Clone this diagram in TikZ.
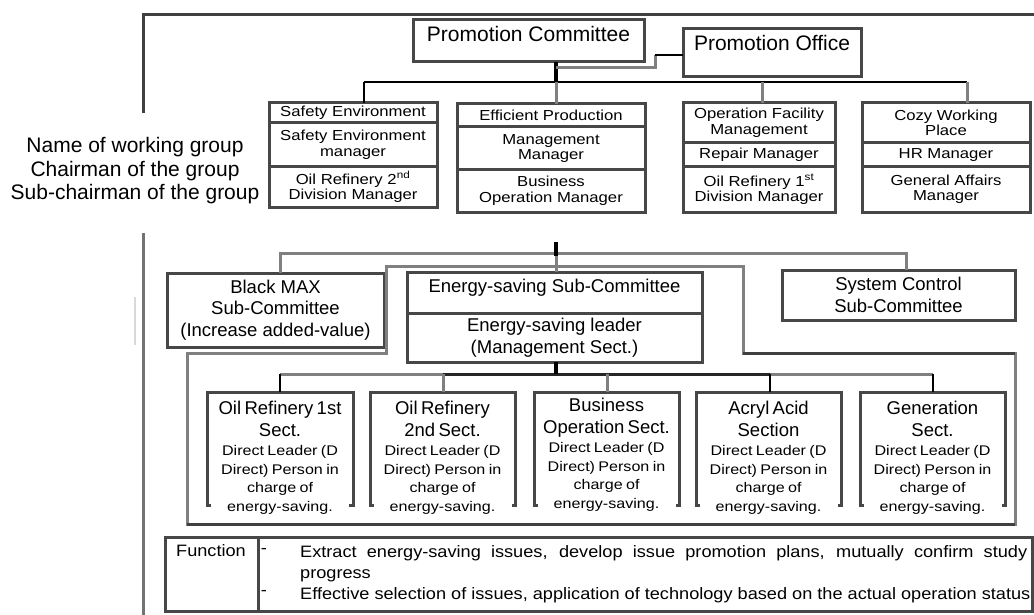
\documentclass[tikz,border=0pt]{standalone}
\usepackage{fontspec}
\setmainfont{Liberation Sans}
\newfontfamily\widefont[FakeStretch=1.15]{Liberation Sans}
\newfontfamily\fnfont[FakeStretch=1.1]{Liberation Sans}
\usetikzlibrary{fit}
\newcommand{\cellbox}[3]{\node[bx, fit={#2}] (#1) {};\node[celltext] (#1t) at (#1.center) {#3};}
\begin{document}
\begin{tikzpicture}[x=1pt,y=-1pt,
  bx/.style={draw=black!72, line width=3pt, inner sep=0pt, outer sep=0pt},
  celltext/.style={align=center, inner sep=0pt, font=\widefont\fontsize{14.5}{15.5}\selectfont},
  mid/.style={align=center, inner sep=0pt, font=\fontsize{18.5}{21.5}\selectfont},
  big/.style={inner sep=0pt, font=\fontsize{21}{23}\selectfont},
  gline/.style={draw=black!50, line width=3pt},
  dline/.style={draw=black, line width=3pt},
  frameline/.style={draw=black!75, line width=3pt},
  stext/.style={fill=white, inner sep=0pt, text width=138pt, align=center, anchor=north},
  fnt/.style={inner sep=0pt, font=\fnfont\fontsize{16.5}{21}\selectfont},
]
\useasboundingbox (0,0) rectangle (1034,615);
\fill[white] (0,0) rectangle (1034,615);

% outer frame
\draw[frameline] (143,113) -- (143,15) -- (1034,15);
\draw[draw=black!55, line width=3pt] (143,233) -- (143,615);
\draw[draw=black!15, line width=2.5pt] (135,297) -- (135,345);

% top committee
\node[bx, fit={(413,20)(644,62)}] (pc) {};
\node[big, anchor=base] (pct) at (528.5,41.5) {Promotion Committee};
\node[bx, fit={(683,29)(861,77)}] (po) {};
\node[big, anchor=base] (pot) at (772,50.5) {Promotion Office};

\coordinate (tr) at (556,82);
\coordinate (k1) at (655,68);
\coordinate (k2) at (655,55);
\draw[dline, line width=4pt] (tr |- pc.south) -- (tr);
\draw[gline] (tr |- k1) -- (k1) -- (k2);
\draw[draw=black, line width=2pt] (k2) -- (k2 -| po.west);

% working groups
\cellbox{g1a}{(269,103)(437,123)}{Safety Environment}
\cellbox{g1b}{(269,123)(437,167)}{Safety Environment\\manager}
\cellbox{g1c}{(269,167)(437,207)}{Oil Refinery 2\textsuperscript{nd}\\Division Manager}

\cellbox{g2a}{(457,104)(645,127)}{Efficient Production}
\cellbox{g2b}{(457,127)(645,170)}{Management\\Manager}
\cellbox{g2c}{(457,170)(645,212)}{Business\\Operation Manager}

\cellbox{g3a}{(683,103)(835,143)}{Operation Facility\\Management}
\cellbox{g3b}{(683,143)(835,167)}{Repair Manager}
\cellbox{g3c}{(683,167)(835,212)}{Oil Refinery 1\textsuperscript{st}\\Division Manager}

\cellbox{g4a}{(862,103)(1030,143)}{Cozy Working\\Place}
\cellbox{g4b}{(862,143)(1030,167)}{HR Manager}
\cellbox{g4c}{(862,167)(1030,212)}{General Affairs\\Manager}

\coordinate (d1) at (364,82);
\coordinate (d2) at (556,82);
\coordinate (d3) at (762,82);
\coordinate (d4) at (967,82);
\draw[dline, line width=2.5pt] (d1) -- (d4);
\draw[dline, line width=2.5pt] (d1) -- (d1 |- g1a.north);
\draw[gline] (d2) -- (d2 |- g2a.north);
\draw[gline] (d3) -- (d3 |- g3a.north);
\draw[gline] (d4) -- (d4 |- g4a.north);

% left labels
\begin{scope}
\clip (0,100) rectangle (259,220);
\node[inner sep=0pt, align=center, font=\fontsize{21}{23.5}\selectfont] (lab) at (135,171) {Name of working group\\Chairman of the group\\Sub-chairman of the group};
\end{scope}

% sub-committees
\node[bx, fit={(167,273)(384,347)}] (bm) {};
\node[mid] (bmt) at (bm.center) {Black MAX\\Sub-Committee\\(Increase added-value)};
\node[bx, fit={(407,272)(702,313)}] (es1) {};
\node[mid] (es1t) at (554.5,288) {Energy-saving Sub-Committee};
\node[bx, fit={(407,313)(702,362)}] (es2) {};
\node[mid] (es2t) at (es2.center) {Energy-saving leader\\(Management Sect.)};
\node[bx, fit={(782,270)(1015,320)}] (sc) {};
\node[mid] (sct) at (sc.center) {System Control\\Sub-Committee};

\coordinate (t2) at (556,242);
\coordinate (t2b) at (556,256);
\coordinate (h1) at (280,253);
\coordinate (h2) at (906,253);
\draw[gline] (h1 |- bm.north) -- (h1) -- (h2) -- (h2 |- sc.north);
\draw[gline] (t2b) -- (t2b |- es1.north);
\draw[dline, line width=4pt] (t2) -- (t2b);

% enclosure of energy-saving group
\draw[gline] (187,524) -- (187,353) -- (386,353) -- (386,266) -- (743,266) -- (743,353) -- (1015,353) -- (1015,524) -- cycle;
\draw[draw=black!75, line width=3pt] (743,353) -- (1015,353);
\draw[draw=black!75, line width=3pt] (187,524) -- (1015,524);

% sections
\coordinate (t3) at (556,374);
\coordinate (s1) at (280,374);
\coordinate (s2) at (443,374);
\coordinate (s3) at (607,374);
\coordinate (s4) at (770,374);
\coordinate (s5) at (933,374);

\node[bx, fit={(207,392)(353,505)}] (b1) {};
\node[bx, fit={(370,392)(515,505)}] (b2) {};
\node[bx, fit={(534,392)(679,505)}] (b3) {};
\node[bx, fit={(696,392)(841,505)}] (b4) {};
\node[bx, fit={(860,392)(1005,505)}] (b5) {};

\draw[gline] (s1) -- (s2);
\draw[draw=black!85, line width=3pt] (s2) -- (s4);
\draw[gline] (s4) -- (s5);
\draw[dline, line width=4pt] (t3 |- es2.south) -- (t3);
\draw[dline, line width=2.5pt] (s1) -- (s1 |- b1.north);
\draw[gline] (s2) -- (s2 |- b2.north);
\draw[gline] (s3) -- (s3 |- b3.north);
\draw[dline, line width=2.5pt] (s4) -- (s4 |- b4.north);
\draw[dline, line width=2.5pt] (s5) -- (s5 |- b5.north);

\newcommand{\secsmall}{{\widefont\fontsize{14}{18.7}\selectfont Direct Leader (D\\Direct) Person in\\charge of\\energy-saving.\par}}
\node[stext] (b1t) at (280,401) {{\fontsize{18.5}{22}\selectfont Oil Refinery 1st\\Sect.\par}\secsmall};
\node[stext] (b2t) at (442.5,401) {{\fontsize{18.5}{22}\selectfont Oil Refinery\\2nd Sect.\par}\secsmall};
\node[stext] (b3t) at (606.5,398) {{\fontsize{18.5}{22}\selectfont Business\\Operation Sect.\par}\secsmall};
\node[stext] (b4t) at (768.5,401) {{\fontsize{18.5}{22}\selectfont Acryl Acid\\Section\par}\secsmall};
\node[stext] (b5t) at (932.5,401) {{\fontsize{18.5}{22}\selectfont Generation\\Sect.\par}\secsmall};

% function box
\node[bx, fit={(165,537)(258,611)}] (fn) {};
\node[bx, fit={(258,537)(1032,611)}] (fc) {};
\node[fnt] (fnl) at (211,551) {Function};
\node[fnt] (dash1) at (264,551) {-};
\node[fnt] (dash2) at (264,593) {-};
\node[fnt, text width=727pt, align=justify, anchor=north west] (f1) at (300,545) {Extract energy-saving issues, develop issue promotion plans, mutually confirm study\linebreak progress};
\node[fnt, anchor=base west] (f2) at (300,599) {Effective selection of issues, application of technology based on the actual operation status};
\end{tikzpicture}
\end{document}
